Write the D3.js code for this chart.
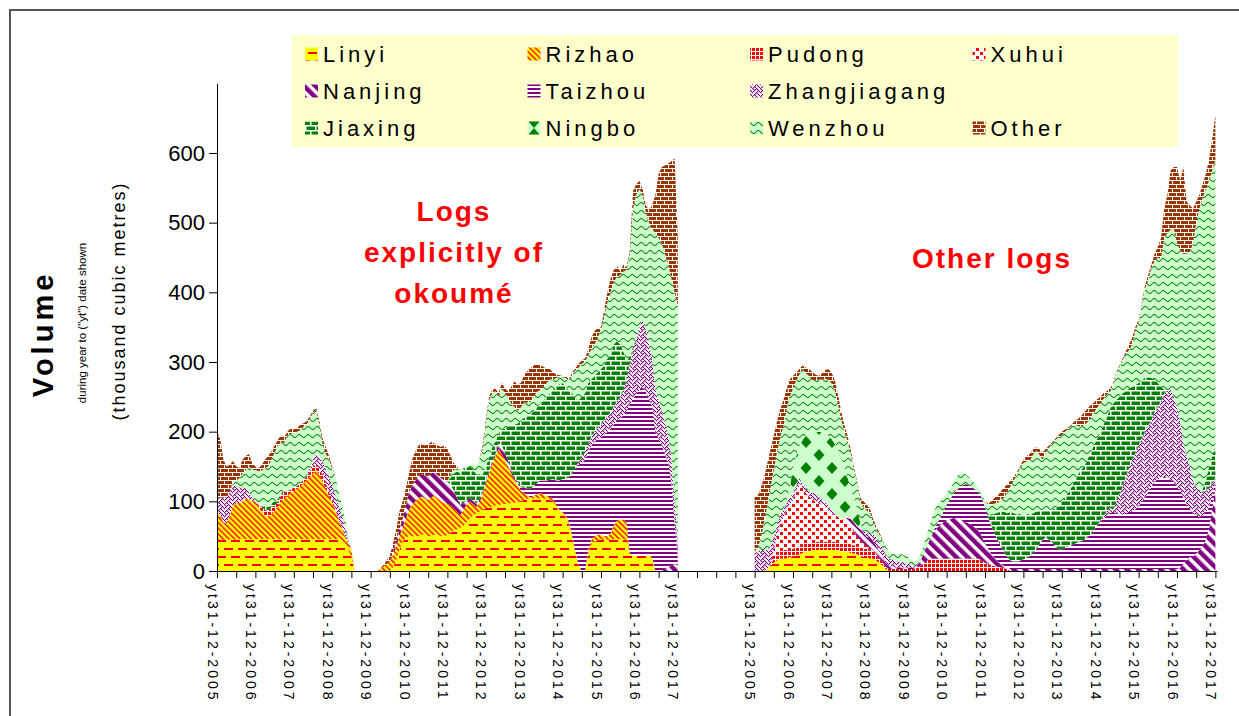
<!DOCTYPE html>
<html>
<head>
<meta charset="utf-8">
<script src="https://cdn.jsdelivr.net/npm/d3@7"></script>
<style>
  body { margin: 0; background: #fff; }
  svg text { font-family: "Liberation Sans", Arial, sans-serif; }
</style>
</head>
<body>
<div id="chart"></div>
<script>
// series in stacking order (bottom to top), same order as the legend
var seriesNames = ["Linyi", "Rizhao", "Pudong", "Xuhui", "Nanjing", "Taizhou", "Zhangjiagang", "Jiaxing", "Ningbo", "Wenzhou", "Other"];
var yearLabels = ["yt31-12-2005", "yt31-12-2006", "yt31-12-2007", "yt31-12-2008", "yt31-12-2009", "yt31-12-2010", "yt31-12-2011",
                  "yt31-12-2012", "yt31-12-2013", "yt31-12-2014", "yt31-12-2015", "yt31-12-2016", "yt31-12-2017"];
var yTicks = [0, 100, 200, 300, 400, 500, 600];

//---- logs explicitly of okoume, monthly from yt31-12-2005 to yt31-12-2017 (thousand m3)
var okLinyi = [45,45,45,45,45,45,45,46,46,46,46,46,46,
  46,46,46,46,46,46,46,46,46,46,46,46,
  46,46,46,46,46,46,46,46,46,46,46,46,
  46,46,45,40,30,22,0,0,0,0,0,0,
  0,0,0,0,0,0,5,15,30,42,48,50,
  50,50,50,52,52,50,50,52,52,50,50,52,
  55,58,60,62,65,70,75,80,82,85,88,90,
  92,92,94,95,95,96,96,98,98,100,100,102,
  104,104,104,104,104,104,104,102,100,92,86,82,
  78,68,48,26,8,0,0,25,38,42,44,45,
  45,45,45,46,46,46,46,45,24,22,22,22,
  22,22,22,20,0,0,0,0,0,0,0,0];
var okRizhao = [40,35,25,23,35,50,52,52,54,58,57,54,54,
  46,39,34,32,36,40,46,54,58,62,66,69,
  72,76,80,84,89,94,99,92,82,72,62,52,
  40,28,17,10,10,8,0,0,0,0,0,0,
  0,0,3,6,10,14,17,20,20,20,27,38,
  45,50,55,55,52,52,56,56,52,50,48,44,
  39,32,25,18,23,25,25,16,10,13,22,35,
  48,63,71,80,73,64,54,42,32,22,15,10,
  4,2,4,6,8,6,4,4,4,3,2,2,
  2,2,2,2,0,0,0,5,7,8,8,7,
  5,5,9,19,26,28,28,25,0,0,0,0,
  0,0,0,0,0,0,0,0,0,0,0,0];
var okPudong = [0,0,0,0,0,0,0,0,0,0,0,0,0,
  3,6,8,8,10,8,6,8,10,6,5,5,
  4,4,5,6,8,10,8,8,10,8,6,5,
  3,0,0,0,0,0,0,0,0,0,0,0,
  0,0,0,0,0,0,0,0,0,0,0,0,
  0,0,0,0,0,0,0,0,0,0,0,0,
  0,0,0,0,0,0,0,0,0,0,0,0,
  0,0,0,0,0,0,0,0,0,0,0,0,
  0,0,0,0,0,0,0,0,0,0,0,0,
  0,0,0,0,0,0,0,0,0,0,0,0,
  0,0,0,0,0,0,0,0,0,0,0,0,
  0,0,0,0,0,0,0,0,0,0,0,0];
var okXuhui = [0,0,0,0,0,0,0,0,0,0,0,0,0,
  0,0,0,0,0,0,0,0,0,0,0,0,
  0,0,0,0,0,0,0,0,0,0,0,0,
  0,0,0,0,0,0,0,0,0,0,0,0,
  0,0,0,0,0,0,0,0,0,0,0,0,
  0,0,0,0,0,0,0,0,0,0,0,0,
  0,0,0,0,0,0,0,0,0,0,0,0,
  0,0,0,0,0,0,0,0,0,0,0,0,
  0,0,0,0,0,0,0,0,0,0,0,0,
  0,0,0,0,0,0,0,0,0,0,0,0,
  0,0,0,0,0,0,0,0,0,0,0,0,
  0,0,0,0,0,0,0,0,0,0,0,0];
var okNanjing = [0,0,0,0,0,0,0,0,0,0,0,0,0,
  0,0,0,0,0,0,0,0,0,0,0,0,
  0,0,0,0,0,0,0,0,0,0,0,0,
  0,0,0,0,0,0,0,0,0,0,0,0,
  0,0,0,0,0,0,5,8,10,12,18,25,
  28,30,32,32,33,34,34,34,33,33,32,32,
  30,25,20,15,10,5,5,5,5,5,3,3,
  3,3,3,8,12,10,8,5,3,3,0,0,
  0,0,0,0,0,0,0,0,0,0,0,0,
  0,0,0,0,0,0,0,0,0,0,0,0,
  0,0,0,0,0,0,0,0,0,0,0,0,
  0,0,0,0,0,0,0,3,5,8,10,8];
var okTaizhou = [0,0,0,0,0,0,0,0,0,0,0,0,0,
  0,0,0,0,0,0,0,0,0,0,0,0,
  0,0,0,0,0,0,0,0,0,0,0,0,
  0,0,0,0,0,0,0,0,0,0,0,0,
  0,0,0,0,0,0,0,0,0,0,0,0,
  0,0,0,0,0,0,0,0,0,0,0,0,
  0,0,0,0,0,0,0,0,0,0,0,0,
  0,0,0,0,0,0,0,0,0,3,5,8,
  10,12,14,16,18,20,22,25,28,35,42,48,
  52,65,90,120,145,155,160,140,135,135,138,140,
  145,150,150,145,145,145,150,160,215,225,232,238,
  242,235,225,215,200,190,180,165,150,120,60,10];
var okZhangjiagang = [15,25,35,38,35,30,25,22,20,15,10,5,3,
  0,0,0,0,0,0,0,0,0,0,0,0,
  0,0,0,0,5,10,15,18,20,20,22,22,
  20,20,18,12,5,0,0,0,0,0,0,0,
  0,0,0,0,0,0,0,0,0,0,0,0,
  0,0,0,0,0,0,0,0,0,0,0,0,
  0,0,0,0,0,0,0,0,0,0,0,0,
  0,0,0,0,0,0,0,0,0,0,0,0,
  0,0,0,0,0,0,0,0,0,0,0,0,
  0,0,0,0,5,8,10,12,14,15,16,18,
  20,22,24,26,28,30,35,45,60,70,80,90,
  96,90,80,70,60,55,50,45,40,35,30,20];
var okJiaxing = [0,0,0,0,0,0,0,0,0,0,0,0,0,
  0,4,6,6,5,6,5,4,3,0,0,0,
  0,0,0,0,0,0,0,0,0,0,0,0,
  0,0,0,0,0,0,0,0,0,0,0,0,
  0,0,0,0,0,0,0,0,0,0,0,0,
  0,0,0,0,0,0,0,0,0,0,0,0,
  10,25,38,45,48,48,45,45,42,35,25,22,
  20,20,18,15,22,35,50,65,77,84,95,100,
  104,107,108,109,110,115,120,124,128,135,138,138,
  133,123,115,100,87,87,85,88,81,80,79,80,
  80,83,82,89,85,76,56,25,10,5,0,0,
  0,0,0,0,0,0,0,0,0,0,0,0];
var okNingbo = [0,0,0,0,0,0,0,0,0,0,0,0,0,
  0,0,0,0,0,0,0,0,0,0,0,0,
  0,0,0,0,0,0,0,0,0,0,0,0,
  0,0,0,0,0,0,0,0,0,0,0,0,
  0,0,0,0,0,0,0,0,0,0,0,0,
  0,0,0,0,0,0,0,0,0,0,0,0,
  0,0,0,0,0,0,0,0,0,0,0,0,
  0,0,0,0,0,0,0,0,0,0,0,0,
  0,0,0,0,0,0,0,0,0,0,0,0,
  0,0,0,0,0,0,0,0,0,0,0,0,
  0,0,0,0,0,0,0,0,0,0,0,0,
  0,0,0,0,0,0,0,0,0,0,0,0];
var okWenzhou = [5,0,0,0,0,5,8,13,20,26,37,40,42,
  48,49,54,58,63,70,77,73,67,80,80,78,
  78,76,76,74,71,67,63,46,24,22,24,22,
  26,21,15,13,3,0,0,0,0,0,0,0,
  0,0,0,0,0,0,0,0,0,0,0,0,
  0,0,0,0,0,0,0,0,0,0,0,0,
  6,5,4,5,2,2,2,9,11,22,37,60,
  82,77,72,52,60,50,40,30,25,18,20,22,
  20,18,20,22,20,18,20,20,15,12,10,8,
  12,15,25,40,47,48,45,40,43,45,50,55,
  70,80,90,90,92,100,115,132,146,198,206,198,
  180,168,173,185,225,233,240,242,245,257,300,342];
var okOther = [95,85,55,44,37,28,20,15,20,20,18,10,5,
  5,8,12,15,12,10,8,10,8,6,8,5,
  5,8,5,5,3,3,3,5,8,10,5,3,
  0,0,0,0,0,0,0,0,0,0,0,0,
  0,0,0,3,5,8,13,17,25,26,25,27,
  37,42,43,44,43,46,45,41,43,45,50,47,
  25,10,3,0,0,0,0,0,0,0,5,5,
  5,5,4,5,8,7,10,25,37,38,35,40,
  45,48,45,40,35,30,20,15,10,5,3,2,
  3,2,5,3,6,4,5,8,17,20,13,5,
  10,15,20,17,16,5,10,4,5,25,15,12,
  8,10,18,35,55,92,110,127,145,168,192,100];

//---- other logs, monthly from yt31-12-2005 to yt31-12-2017 (thousand m3)
var otLinyi = [0,0,0,0,3,8,12,15,18,18,18,20,20,
  22,24,26,28,28,30,30,30,30,30,30,30,
  30,30,28,28,28,26,25,24,22,20,20,18,
  18,15,12,8,3,0,0,0,0,0,0,0,
  0,0,0,0,0,0,0,0,0,0,0,0,
  0,0,0,0,0,0,0,0,0,0,0,0,
  0,0,0,0,0,0,0,0,0,0,0,0,
  0,0,0,0,0,0,0,0,0,0,0,0,
  0,0,0,0,0,0,0,0,0,0,0,0,
  0,0,0,0,0,0,0,0,0,0,0,0,
  0,0,0,0,0,0,0,0,0,0,0,0,
  0,0,0,0,0,0,0,0,0,0,0,0];
var otRizhao = [0,0,0,0,0,0,0,0,0,0,0,0,0,
  0,0,0,0,0,0,0,0,0,0,0,0,
  0,0,0,0,0,0,0,0,0,0,0,0,
  0,0,0,0,0,0,0,0,0,0,0,0,
  0,0,0,0,0,0,0,0,0,0,0,0,
  0,0,0,0,0,0,0,0,0,0,0,0,
  0,0,0,0,0,0,0,0,0,0,0,0,
  0,0,0,0,0,0,0,0,0,0,0,0,
  0,0,0,0,0,0,0,0,0,0,0,0,
  0,0,0,0,0,0,0,0,0,0,0,0,
  0,0,0,0,0,0,0,0,0,0,0,0,
  0,0,0,0,0,0,0,0,0,0,0,0];
var otPudong = [0,0,0,0,0,2,5,8,10,12,12,12,12,
  12,12,12,12,12,12,12,12,12,12,12,12,
  12,12,12,12,12,12,12,12,12,12,12,12,
  10,8,6,5,3,3,3,3,3,3,3,3,
  3,3,5,8,12,15,18,18,18,18,18,18,
  18,18,18,18,18,18,18,18,18,18,15,12,
  10,8,7,6,5,4,2,0,0,0,0,0,
  0,0,0,0,0,0,0,0,0,0,0,0,
  0,0,0,0,0,0,0,0,0,0,0,0,
  0,0,0,0,0,0,0,0,0,0,0,0,
  0,0,0,0,0,0,0,0,0,0,0,0,
  0,0,0,0,0,0,0,0,0,0,0,0];
var otXuhui = [0,0,0,0,0,0,13,27,41,48,58,63,70,
  81,90,82,72,66,60,58,55,53,50,46,41,
  38,36,35,33,28,25,19,13,11,8,3,3,
  2,1,0,0,0,0,0,0,0,0,0,0,
  0,0,0,0,0,0,0,0,0,0,0,0,
  0,0,0,0,0,0,0,0,0,0,0,0,
  0,0,0,0,0,0,0,0,0,0,0,0,
  0,0,0,0,0,0,0,0,0,0,0,0,
  0,0,0,0,0,0,0,0,0,0,0,0,
  0,0,0,0,0,0,0,0,0,0,0,0,
  0,0,0,0,0,0,0,0,0,0,0,0,
  0,0,0,0,0,0,0,0,0,0,0,0];
var otNanjing = [0,0,0,0,0,0,0,0,0,0,0,0,0,
  0,0,0,0,0,0,0,0,0,0,0,0,
  0,0,0,3,8,12,14,15,15,15,14,14,
  13,12,10,8,6,5,3,2,2,2,2,2,
  2,2,4,8,15,22,30,38,44,48,52,55,
  56,58,58,57,55,52,50,47,44,40,35,28,
  22,16,12,8,5,3,3,3,3,3,3,3,
  3,3,3,3,3,3,3,3,3,3,3,3,
  3,3,3,3,3,3,3,3,3,3,3,3,
  3,3,3,3,3,3,3,3,3,3,3,3,
  3,3,3,3,3,3,3,3,3,3,3,3,
  5,10,15,20,20,25,30,35,45,60,90,120];
var otTaizhou = [0,0,0,0,0,0,0,0,0,0,0,0,0,
  0,0,0,0,0,0,0,0,0,0,0,0,
  0,0,0,0,0,0,0,0,0,0,0,0,
  0,0,0,0,0,0,0,0,0,0,0,0,
  0,0,0,0,0,0,0,3,6,10,15,22,
  28,34,40,45,50,55,55,55,55,55,55,52,
  45,40,35,30,25,20,15,12,10,10,12,14,
  15,18,22,28,35,42,45,42,38,32,28,28,
  30,32,34,36,38,40,42,45,50,55,62,68,
  72,76,80,82,80,78,78,80,82,82,86,90,
  96,102,110,118,125,128,130,132,130,128,125,118,
  110,95,80,70,62,55,48,45,40,30,20,10];
var otZhangjiagang = [25,28,30,30,28,25,20,15,12,10,10,10,10,
  8,8,5,5,8,10,12,10,8,8,6,5,
  3,0,0,0,0,0,0,0,0,3,5,8,
  10,12,12,12,12,10,10,10,8,8,6,5,
  4,3,2,0,0,0,0,0,0,0,0,0,
  0,0,0,0,0,0,0,0,0,0,0,0,
  0,0,0,0,0,0,0,0,0,0,0,0,
  0,0,0,0,0,0,0,0,0,0,0,0,
  0,0,0,0,0,0,0,0,0,0,0,2,
  4,6,8,3,15,29,40,52,63,75,80,87,
  92,95,96,96,100,104,112,120,126,129,122,114,
  100,79,70,60,48,40,37,32,30,30,15,5];
var otJiaxing = [0,0,0,0,0,0,0,0,0,0,0,0,0,
  0,0,0,0,0,0,0,0,0,0,0,0,
  0,0,0,0,0,0,0,0,0,0,0,0,
  0,0,0,0,0,0,0,0,0,0,0,0,
  0,0,0,0,0,0,0,0,0,0,0,0,
  0,0,0,0,0,0,0,0,0,0,0,0,
  5,15,28,40,50,58,63,70,70,68,65,63,
  62,60,58,54,48,43,40,43,47,55,62,69,
  73,77,83,91,97,102,105,112,117,122,125,125,
  131,135,141,152,147,140,134,123,114,104,98,90,
  82,76,69,60,47,35,20,5,0,0,0,0,
  0,0,0,0,0,0,0,5,15,30,40,45];
var otNingbo = [0,0,0,0,0,0,0,0,0,0,2,15,38,
  42,46,63,78,84,88,88,93,96,98,100,102,
  100,97,88,74,59,45,35,26,10,0,0,0,
  0,0,0,0,0,0,0,0,0,0,0,0,
  0,0,0,0,0,0,0,0,0,0,0,0,
  0,0,0,0,0,0,0,0,0,0,0,0,
  0,0,0,0,0,0,0,0,0,0,0,0,
  0,0,0,0,0,0,0,0,0,0,0,0,
  0,0,0,0,0,0,0,0,0,0,0,0,
  0,0,0,0,0,0,0,0,0,0,0,0,
  0,0,0,0,0,0,0,0,0,0,0,0,
  0,0,0,0,0,0,0,0,0,0,0,0];
var otWenzhou = [3,5,18,40,64,85,95,105,111,119,132,130,112,
  108,102,102,89,82,74,74,75,76,78,81,80,
  77,66,55,50,52,49,41,38,30,34,33,29,
  17,13,12,10,11,10,9,9,12,11,11,10,
  7,6,7,9,13,18,22,26,27,24,20,17,
  16,15,19,20,19,13,12,10,8,5,5,8,
  13,16,15,14,18,20,30,37,47,58,68,75,
  77,77,84,88,81,72,82,89,95,98,99,95,
  94,92,88,80,70,62,60,53,50,47,44,42,
  37,33,25,25,38,43,48,54,55,61,78,87,
  110,129,139,158,170,180,183,218,226,230,242,235,
  245,271,291,308,340,380,405,418,418,410,410,410];
var otOther = [78,75,72,65,60,55,50,45,40,38,30,25,18,
  12,8,5,8,10,12,8,5,8,12,15,15,
  15,14,12,10,8,6,4,2,5,8,8,6,
  5,4,3,2,0,0,0,0,0,0,0,0,
  0,0,0,0,0,0,0,0,0,0,0,0,
  0,0,0,0,0,0,0,0,0,0,0,0,
  2,5,8,10,12,15,12,8,5,3,2,5,
  8,10,8,5,8,10,5,3,2,2,3,5,
  3,2,2,5,10,15,18,20,18,15,12,10,
  8,5,5,3,2,2,2,3,8,10,5,3,
  2,5,8,5,10,15,30,42,55,85,88,110,
  100,125,74,67,50,30,20,20,22,30,45,65];

// tables built from the arrays above
var okoumeTable = {Linyi: okLinyi, Rizhao: okRizhao, Pudong: okPudong, Xuhui: okXuhui, Nanjing: okNanjing, Taizhou: okTaizhou,
  Zhangjiagang: okZhangjiagang, Jiaxing: okJiaxing, Ningbo: okNingbo, Wenzhou: okWenzhou, Other: okOther};
var otherTable = {Linyi: otLinyi, Rizhao: otRizhao, Pudong: otPudong, Xuhui: otXuhui, Nanjing: otNanjing, Taizhou: otTaizhou,
  Zhangjiagang: otZhangjiagang, Jiaxing: otJiaxing, Ningbo: otNingbo, Wenzhou: otWenzhou, Other: otOther};

//svg dims
var width = 1239;
var height = 716;
var monthsPerPanel = 145;
var rightStart = 168;   // category index where the second block starts (gap of empty months)
var lastCategory = 313;

var svg = d3.select("#chart")
            .append("svg")
            .attr("width", width)
            .attr("height", height);

//colours used by the Excel-like pattern fills
var yellow = "#ffff00", red = "#ff0000", purple = "#800080", green = "#008000", pale = "#ccffcc", brown = "#993300";

//pattern fills
var defs = svg.append("defs");
function addPattern(key, w, h, bg, transform) {
  var p = defs.append("pattern")
              .attr("id", "pat-" + key)
              .attr("patternUnits", "userSpaceOnUse")
              .attr("width", w)
              .attr("height", h);
  if (transform) p.attr("patternTransform", transform);
  p.append("rect").attr("width", w).attr("height", h).attr("fill", bg);
  return p;
}
function rects(p, list, fill) {
  list.forEach(r => p.append("rect").attr("x", r[0]).attr("y", r[1]).attr("width", r[2]).attr("height", r[3]).attr("fill", fill));
}
//Linyi: yellow with red dashes
rects(addPattern("Linyi", 14, 16, yellow), [[0, 4, 9, 2], [7, 12, 7, 2], [0, 12, 2, 2]], red);
//Rizhao: yellow with thin red diagonal stripes
rects(addPattern("Rizhao", 4, 4, yellow, "rotate(-45)"), [[0, 0, 1.4, 4]], red);
//Pudong: red grid
rects(addPattern("Pudong", 4, 4, "#fff"), [[0, 0, 3, 3]], red);
//Xuhui: red dots
rects(addPattern("Xuhui", 8, 8, "#fff"), [[0, 0, 3, 3], [4, 4, 3, 3]], red);
//Nanjing: wide purple diagonal
rects(addPattern("Nanjing", 8, 8, "#fff", "rotate(-45)"), [[0, 0, 4.5, 8]], purple);
//Taizhou: purple horizontal lines
rects(addPattern("Taizhou", 4, 4, "#fff"), [[0, 0, 4, 2]], purple);
//Zhangjiagang: purple weave
var weave = ["10001000", "01010100", "00100010", "01000101", "10001000", "00010100", "00100010", "01010001"];
var pz = addPattern("Zhangjiagang", 8, 8, "#fff");
weave.forEach((row, j) => row.split("").forEach((b, i) => {
  if (b === "1") pz.append("rect").attr("x", i).attr("y", j).attr("width", 1.2).attr("height", 1.2).attr("fill", purple);
}));
//Jiaxing: green bricks
rects(addPattern("Jiaxing", 10, 10, green), [[0, 0, 10, 1.5], [0, 5, 10, 1.5], [0, 0, 1.5, 5], [5, 5, 1.5, 5]], "#fff");
//Ningbo: green diamonds on pale green
var pn = addPattern("Ningbo", 26, 26, pale);
[[0, 0], [26, 0], [0, 26], [26, 26], [13, 13]].forEach(c => {
  pn.append("path").attr("d", `M${c[0]},${c[1] - 6}L${c[0] + 5.5},${c[1]}L${c[0]},${c[1] + 6}L${c[0] - 5.5},${c[1]}Z`).attr("fill", green);
});
//Wenzhou: green waves on pale green
addPattern("Wenzhou", 9, 8, pale)
  .append("path").attr("d", "M0,4 Q2.25,1 4.5,4 T9,4").attr("fill", "none").attr("stroke", green).attr("stroke-width", 1.1);
//Other: small brown bricks
rects(addPattern("Other", 8, 8, brown), [[0, 0, 8, 1], [0, 4, 8, 1], [0, 0, 1, 4], [4, 4, 1, 4]], "#fff");

//frame
svg.append("rect")
   .attr("x", 10).attr("y", 10)
   .attr("width", width).attr("height", height)
   .attr("fill", "none").attr("stroke", "#555").attr("stroke-width", 2);

//scales
var xScale = d3.scaleLinear()
               .domain([0, lastCategory])
               .range([217, 217 + lastCategory * 3.2]);
var yScale = d3.scaleLinear()
               .domain([0, 700])
               .range([571, 571 - 700 * 0.6967]);

//stacked areas, one block per panel
var stack = d3.stack().keys(seriesNames);
var area = d3.area()
             .x(d => xScale(d.data.g))
             .y0(d => yScale(d[0]))
             .y1(d => yScale(d[1]));
[{offset: 0, table: okoumeTable}, {offset: rightStart, table: otherTable}].forEach(panel => {
  var rows = d3.range(monthsPerPanel).map(i => {
    var r = {g: panel.offset + i};
    seriesNames.forEach(k => { r[k] = panel.table[k][i]; });
    return r;
  });
  svg.append("g")
     .selectAll("path")
     .data(stack(rows))
     .join("path")
     .attr("d", area)
     .attr("fill", d => `url(#pat-${d.key})`);
});

//x axis: tick every 6 months, label every 12 months in each block
var labelFor = {};
yearLabels.forEach((t, j) => { labelFor[12 * j] = t; labelFor[rightStart + 12 * j] = t; });
var xAxis = d3.axisBottom(xScale)
              .tickValues(d3.range(0, lastCategory, 6))
              .tickSize(7)
              .tickSizeOuter(0)
              .tickFormat(g => labelFor[g] || "");
var gx = svg.append("g")
            .attr("transform", `translate(0, ${yScale(0)})`)
            .call(xAxis);
gx.select(".domain").attr("d", `M${xScale(0)},0.5H${xScale(lastCategory) - 1}`);
gx.selectAll("text")
  .attr("transform", "rotate(90)")
  .attr("x", 13)
  .attr("y", 5)
  .attr("dy", "0.35em")
  .style("text-anchor", "start")
  .style("font-size", "14px")
  .style("letter-spacing", "3px")
  .attr("fill", "#000");

//y axis
var yAxis = d3.axisLeft(yScale)
              .tickValues(yTicks)
              .tickSize(8)
              .tickSizeOuter(0)
              .tickPadding(4);
svg.append("g")
   .attr("transform", `translate(${xScale(0)}, 0)`)
   .call(yAxis)
   .selectAll("text")
   .style("font-size", "22px")
   .attr("fill", "#000");

//y titles
svg.append("text")
   .attr("transform", "translate(43, 334) rotate(-90)")
   .attr("text-anchor", "middle").attr("dy", "0.35em")
   .style("font-size", "29px").style("font-weight", "bold").style("letter-spacing", "4px")
   .text("Volume");
svg.append("text")
   .attr("transform", "translate(82, 323) rotate(-90)")
   .attr("text-anchor", "middle").attr("dy", "0.35em")
   .style("font-size", "11.5px")
   .text('during year to ("yt") date shown');
svg.append("text")
   .attr("transform", "translate(119, 301) rotate(-90)")
   .attr("text-anchor", "middle").attr("dy", "0.35em")
   .style("font-size", "18px").style("letter-spacing", "2px")
   .text("(thousand cubic metres)");

//block titles
var okTitle = ["Logs", "explicitly of", "okoumé"];
okTitle.forEach((t, i) => {
  svg.append("text")
     .attr("x", 454).attr("y", 211 + i * 41)
     .attr("text-anchor", "middle").attr("dy", "0.35em")
     .attr("fill", red)
     .style("font-size", "28px").style("font-weight", "bold").style("letter-spacing", "2px")
     .text(t);
});
svg.append("text")
   .attr("x", 992).attr("y", 258)
   .attr("text-anchor", "middle").attr("dy", "0.35em")
   .attr("fill", red)
   .style("font-size", "28px").style("font-weight", "bold").style("letter-spacing", "2px")
   .text("Other logs");

//legend
var legendRows = [["Linyi", "Rizhao", "Pudong", "Xuhui"],
                  ["Nanjing", "Taizhou", "Zhangjiagang"],
                  ["Jiaxing", "Ningbo", "Wenzhou", "Other"]];
var legend = svg.append("g");
legend.append("rect")
      .attr("x", 292).attr("y", 35)
      .attr("width", 886).attr("height", 112)
      .attr("fill", "#ffffcc");
legendRows.forEach((row, r) => {
  row.forEach((key, c) => {
    var lx = 305 + c * 222.5;
    var ly = 54 + r * 37;
    var icon = legend.append("rect")
                     .attr("x", lx).attr("y", ly - 6.5)
                     .attr("width", 13).attr("height", 13)
                     .attr("fill", `url(#pat-${key})`);
    if (key === "Ningbo") {
      // small swatch: show the diamond pattern as an hourglass like the original key
      icon.attr("fill", pale);
      legend.append("path")
            .attr("d", `M${lx + 1},${ly - 6.5}H${lx + 12}L${lx + 6.5},${ly}L${lx + 12},${ly + 6.5}H${lx + 1}L${lx + 6.5},${ly}Z`)
            .attr("fill", green);
    }
    legend.append("text")
          .attr("x", lx + 18).attr("y", ly)
          .attr("dy", "0.35em")
          .style("font-size", "22px").style("letter-spacing", "4px")
          .text(key);
  });
});
</script>
</body>
</html>
